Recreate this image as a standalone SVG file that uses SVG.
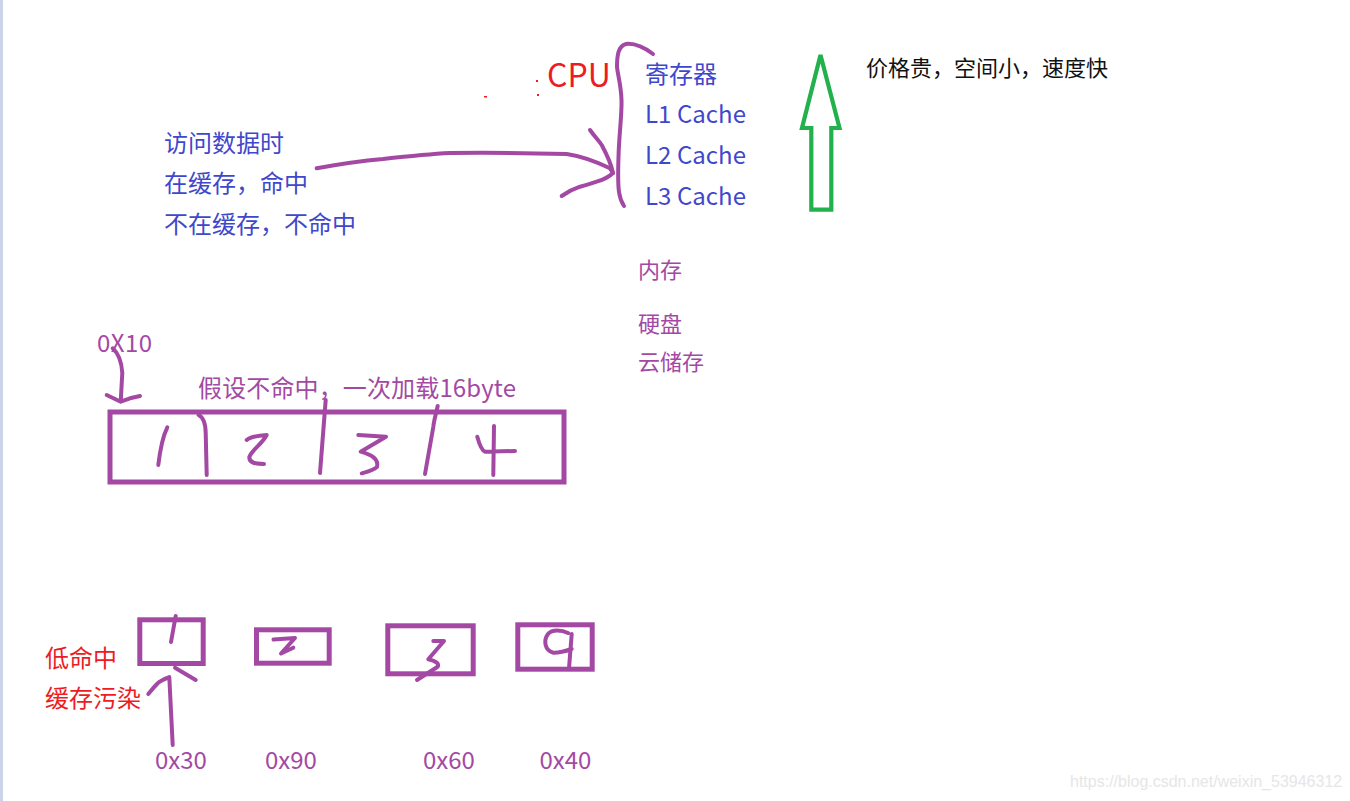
<svg xmlns="http://www.w3.org/2000/svg" width="1350" height="801" viewBox="0 0 1350 801">
<style>
text{font-family:"Noto Sans CJK SC","Noto Sans",sans-serif}
.blue{fill:#3f48cc;font-size:24px}
.pur{fill:#a349a4;font-size:22px}
.purL{fill:#a349a4;font-size:24px}
.red{fill:#ed1c24;font-size:24px}
.blk{fill:#111;font-size:22px}
.pen{fill:none;stroke:#a349a4;stroke-width:4;stroke-linecap:round;stroke-linejoin:round}
.box{fill:none;stroke:#a349a4;stroke-width:5}
.wm{fill:#e6e6e6;font-family:"Liberation Sans",sans-serif;font-size:16px}
</style>
<rect width="1350" height="801" fill="#fff"/>
<rect x="0" y="0" width="3" height="801" fill="#cbd5e7"/>

<g id="cpu">
<text x="547" y="87" style="fill:#ed1c24;font-size:32px">CPU</text>
<rect x="536" y="80" width="2" height="2" fill="#ed1c24"/>
<rect x="537" y="94" width="2" height="2" fill="#ed1c24"/>
<rect x="484" y="96" width="3" height="1.5" fill="#ed1c24"/>
</g>
<g id="cache-levels">
<text class="blue" x="645" y="83">寄存器</text>
<text class="blue" x="645" y="122.5" textLength="101">L1 Cache</text>
<text class="blue" x="645" y="163.5" textLength="101">L2 Cache</text>
<text class="blue" x="645" y="204.5" textLength="101">L3 Cache</text>
</g>
<g id="brace">
<path class="pen" d="M653,54 C645,48 635,43 626,44 C618,46 617,56 617,67 C618,76 621,85 621.5,100 C622,115 619,135 618.5,157 C618,172 618,185 619,192 C620,199 622,203 624,206"/>
</g>
<g id="storage">
<text class="pur" x="638" y="278">内存</text>
<text class="pur" x="638" y="331.5">硬盘</text>
<text class="pur" x="638" y="370">云储存</text>
</g>
<g id="speed-arrow">
<polygon points="820.5,55 802,128 811.3,128 811.3,209.7 831.3,209.7 831.3,128 839.5,128" fill="none" stroke="#22b14c" stroke-width="4.2" stroke-linejoin="miter"/>
</g>
<g id="speed-note">
<text class="blk" x="866" y="76">价格贵，空间小，速度快</text>
</g>
<g id="access-note">
<text class="blue" x="164" y="151.5">访问数据时</text>
<text class="blue" x="164" y="192">在缓存，命中</text>
<text class="blue" x="164" y="232.5">不在缓存，不命中</text>
</g>
<g id="block16">
<text class="purL" x="97" y="351.5" textLength="55">0X10</text>
<text class="purL" x="198" y="396.5" textLength="318">假设不命中，一次加载16byte</text>
<rect class="box" x="110" y="412" width="454" height="70"/>
<path class="pen" d="M198.5,415 C203,417 205.5,422 205.7,433 L206.7,475"/>
<path class="pen" d="M325.7,400 L320,473"/>
<path class="pen" d="M437.7,406 C436,414 434,420 433.3,427 L425,474"/>
<path class="pen" d="M167.3,427.3 C163,436 160.5,446 158.3,465"/>
<path class="pen" d="M246.7,440 C250,437 255,435.7 266.7,435 C262,444 252,450 249.3,457 C249,463 256,464 264,464"/>
<path class="pen" d="M358.3,435 L386,436.7 L360.7,451.7 C372,455 379,459 377,467 C372,471 366,472 361.7,473.3"/>
<path class="pen" d="M477.3,436.7 C479,443 481,450 485,451.7 L515,451 M494,426 L493.3,475"/>
</g>
<g id="lines">
<text class="red" x="45" y="667">低命中</text>
<text class="red" x="45" y="707">缓存污染</text>
<rect class="box" x="139.8" y="619.8" width="63.4" height="43.7"/>
<path class="pen" d="M175.7,616 L171,642"/>
<rect class="box" x="256.5" y="629.8" width="72.7" height="33.4"/>
<path class="pen" d="M273.5,639.5 L295,638 L281,653.5 L293.3,647.7"/>
<rect class="box" x="387.8" y="625.8" width="85.4" height="48"/>
<path class="pen" d="M433.3,641 L444,641 L428.3,659.3 C436,661 440,664 437.3,667 L417,680"/>
<rect class="box" x="517.8" y="624.8" width="74.4" height="44.4"/>
<path class="pen" d="M568,633 C562,630 552,629 548,634 C543,641 545,650 553,652.7 C560,653 566,651 571.7,649 M571.7,634 L569,668.3"/>
<text class="pur" x="155" y="769" style="font-size:24px">0x30</text>
<text class="pur" x="265" y="769" style="font-size:24px">0x90</text>
<text class="pur" x="423" y="769" style="font-size:24px">0x60</text>
<text class="pur" x="539.5" y="769" style="font-size:24px">0x40</text>
</g>
<g id="connectors">
<path class="pen" d="M316.7,168.3 C340,164 360,161 383,159 C410,156 430,154 450,153 C490,152.5 530,153 566.7,154 C580,156 595,161 610,168.3 L613,173"/>
<path class="pen" d="M590,130 C595,137 599,141 601.7,145 C606,153 611,163 613,173 C608,178 602,180 596.7,181.7 C590,184 585,185.5 580,186.7 C573,189 566,193 561.7,196"/>
<path class="pen" d="M112.7,348.3 C118,353 121.5,360 122.3,373 L120.7,401.7 M106.7,395 L120.7,401.7 L130,398.3 L140,396"/>
<path class="pen" d="M175,667.7 L195.7,680"/>
<path class="pen" d="M172.7,745 L169.3,677 C164,679 160,680.5 157,684 C153,688 150,692 148.3,694"/>
</g>
<text class="wm" x="1070" y="787">https://blog.csdn.net/weixin_53946312</text>
</svg>
